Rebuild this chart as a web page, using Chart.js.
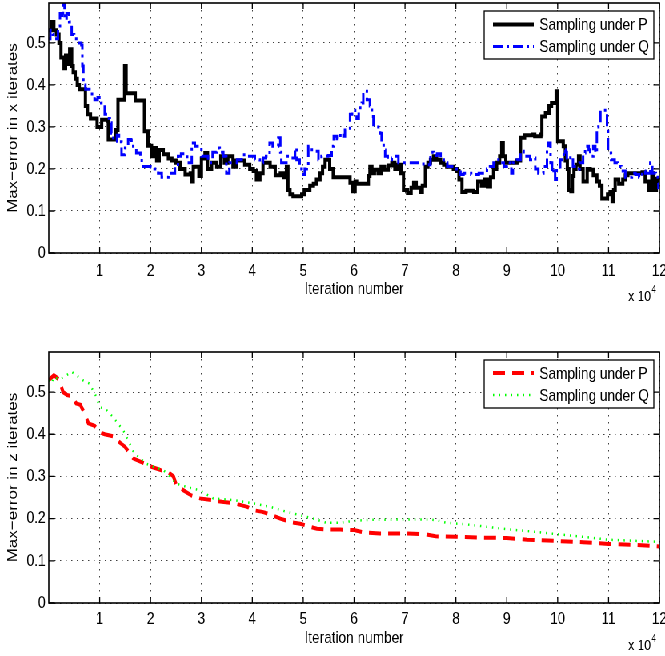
<!DOCTYPE html>
<html><head><meta charset="utf-8">
<script src="https://cdn.jsdelivr.net/npm/chart.js@4"></script>
<style>
html,body{margin:0;padding:0;background:#fff;overflow:hidden;width:665px;height:656px;}
#wrap{position:absolute;left:0;top:0;width:831px;height:656px;transform:scaleX(0.80024);transform-origin:0 0;}
canvas{position:absolute;left:0;}
</style></head><body>
<div id="wrap">
<canvas id="c1" width="831" height="328" style="top:0;width:831px;height:328px"></canvas>
<canvas id="c2" width="831" height="328" style="top:328px;width:831px;height:328px"></canvas>
</div>
<script>
// ---- data (iteration number in units of 10^4) ----
const xTicks = [1,2,3,4,5,6,7,8,9,10,11,12];
const yTicks = [0,0.1,0.2,0.3,0.4,0.5];
const xTitle = 'Iteration number';
const yTitleTop = 'Max\u2212error in x iterates';
const yTitleBottom = 'Max\u2212error in z iterates';
const labelP = 'Sampling under P';
const labelQ = 'Sampling under Q';

// top plot: x iterates, sampling under P
const iterPx = [0,0.05,0.1,0.15,0.2,0.24,0.3,0.33,0.37,0.41,
 0.45,0.48,0.52,0.56,0.6,0.72,0.76,0.82,0.95,1.04,
 1.15,1.17,1.32,1.36,1.49,1.52,1.7,1.88,1.95,2.02,
 2.08,2.12,2.17,2.25,2.35,2.42,2.5,2.58,2.68,2.78,
 2.81,2.84,2.95,3.0,3.07,3.12,3.2,3.3,3.38,3.45,
 3.52,3.62,3.68,3.85,3.95,4.02,4.08,4.15,4.21,4.35,
 4.45,4.55,4.62,4.67,4.70,4.74,4.8,4.97,5.02,5.13,
 5.2,5.26,5.33,5.38,5.43,5.52,5.59,5.92,5.97,6.02,
 6.05,6.28,6.31,6.35,6.4,6.47,6.53,6.6,6.67,6.74,
 6.8,6.86,6.92,6.97,7.05,7.12,7.17,7.22,7.3,7.34,
 7.4,7.45,7.5,7.56,7.62,7.7,7.76,7.82,7.95,8.02,
 8.06,8.12,8.2,8.35,8.43,8.5,8.56,8.62,8.68,8.74,
 8.8,8.86,8.9,8.93,8.98,9.2,9.27,9.35,9.5,9.55,
 9.67,9.69,9.76,9.83,9.88,9.97,10.0,10.11,10.15,10.19,
 10.22,10.26,10.29,10.32,10.36,10.41,10.44,10.5,10.58,10.64,
 10.7,10.77,10.82,10.87,10.98,11.03,11.07,11.1,11.13,11.2,
 11.28,11.33,11.38,11.66,11.72,11.79,11.82,11.85,11.88,11.94,
 12.0];
const errPx = [0.53,0.55,0.53,0.52,0.50,0.465,0.44,0.47,0.45,0.485,
 0.445,0.43,0.415,0.40,0.39,0.35,0.33,0.32,0.30,0.317,
 0.315,0.27,0.293,0.365,0.445,0.38,0.363,0.29,0.255,0.23,
 0.25,0.22,0.245,0.235,0.225,0.22,0.215,0.2,0.187,0.19,
 0.17,0.205,0.183,0.225,0.238,0.2,0.215,0.205,0.23,0.215,
 0.23,0.205,0.22,0.21,0.2,0.195,0.175,0.19,0.215,0.205,
 0.185,0.19,0.18,0.205,0.15,0.14,0.135,0.14,0.15,0.16,
 0.165,0.175,0.19,0.205,0.222,0.2,0.18,0.167,0.147,0.17,
 0.165,0.183,0.205,0.19,0.198,0.19,0.205,0.198,0.208,0.215,
 0.2,0.21,0.19,0.15,0.143,0.155,0.167,0.155,0.145,0.16,
 0.205,0.215,0.222,0.23,0.222,0.215,0.21,0.205,0.2,0.195,
 0.175,0.145,0.148,0.145,0.17,0.16,0.175,0.158,0.18,0.2,
 0.215,0.23,0.262,0.23,0.215,0.22,0.274,0.28,0.282,0.278,
 0.282,0.325,0.333,0.35,0.357,0.385,0.266,0.254,0.22,0.2,
 0.15,0.147,0.183,0.2,0.21,0.23,0.2,0.17,0.2,0.198,
 0.185,0.17,0.16,0.13,0.14,0.145,0.123,0.15,0.175,0.165,
 0.175,0.185,0.19,0.192,0.17,0.15,0.165,0.19,0.15,0.177,
 0.165];

// top plot: x iterates, sampling under Q
const iterQx = [0,0.03,0.08,0.15,0.18,0.22,0.26,0.28,0.31,0.35,
 0.4,0.45,0.5,0.54,0.64,0.66,0.68,0.72,0.8,0.85,
 0.9,0.96,1.03,1.1,1.15,1.2,1.23,1.27,1.31,1.34,
 1.38,1.43,1.5,1.56,1.62,1.66,1.72,1.8,1.86,2.0,
 2.08,2.15,2.22,2.35,2.41,2.48,2.54,2.6,2.68,2.72,
 2.81,2.87,3.0,3.07,3.13,3.22,3.30,3.36,3.43,3.49,
 3.55,3.62,3.7,3.79,3.88,3.98,4.05,4.15,4.21,4.27,
 4.34,4.4,4.51,4.55,4.57,4.67,4.72,4.84,4.87,4.93,
 4.97,5.03,5.07,5.1,5.17,5.23,5.3,5.36,5.49,5.56,
 5.6,5.66,5.73,5.79,5.82,5.9,5.92,5.96,6.02,6.05,
 6.09,6.12,6.15,6.18,6.22,6.25,6.31,6.35,6.38,6.44,
 6.51,6.54,6.58,6.61,6.66,6.74,6.82,6.87,7.0,7.2,
 7.3,7.4,7.5,7.56,7.63,7.7,7.76,7.83,7.9,7.96,
 8.09,8.15,8.3,8.45,8.55,8.61,8.67,8.74,8.8,8.87,
 8.94,9.0,9.06,9.09,9.12,9.2,9.27,9.33,9.4,9.46,
 9.52,9.56,9.62,9.72,9.79,9.82,9.86,9.89,9.92,9.95,
 9.98,10.05,10.12,10.15,10.18,10.25,10.3,10.37,10.43,10.5,
 10.54,10.61,10.64,10.7,10.74,10.77,10.8,10.84,10.97,10.99,
 11.05,11.12,11.18,11.25,11.33,11.4,11.46,11.53,11.6,11.66,
 11.72,11.79,11.82,11.86,11.93,11.98,12.0];
const errQx = [0.51,0.53,0.52,0.51,0.54,0.57,0.56,0.595,0.555,0.57,
 0.55,0.52,0.51,0.5,0.495,0.445,0.40,0.39,0.385,0.375,
 0.365,0.37,0.357,0.33,0.32,0.31,0.285,0.27,0.266,0.28,
 0.265,0.234,0.25,0.27,0.268,0.25,0.238,0.22,0.206,0.205,
 0.2,0.19,0.18,0.185,0.19,0.205,0.23,0.236,0.236,0.215,
 0.262,0.254,0.23,0.23,0.215,0.24,0.25,0.24,0.23,0.19,
 0.215,0.215,0.222,0.234,0.23,0.23,0.222,0.215,0.226,0.23,
 0.262,0.254,0.274,0.24,0.215,0.23,0.226,0.25,0.222,0.2,
 0.187,0.2,0.205,0.254,0.242,0.242,0.222,0.23,0.232,0.254,
 0.278,0.272,0.285,0.278,0.293,0.293,0.33,0.34,0.33,0.32,
 0.335,0.353,0.357,0.377,0.385,0.365,0.35,0.325,0.305,0.3,
 0.285,0.262,0.245,0.23,0.222,0.226,0.23,0.215,0.215,0.215,
 0.212,0.21,0.24,0.232,0.236,0.222,0.215,0.206,0.206,0.2,
 0.187,0.19,0.187,0.19,0.19,0.2,0.206,0.215,0.222,0.215,
 0.206,0.215,0.206,0.19,0.215,0.222,0.242,0.23,0.23,0.222,
 0.226,0.2,0.19,0.206,0.246,0.262,0.215,0.19,0.2,0.175,
 0.2,0.222,0.246,0.24,0.222,0.23,0.206,0.2,0.215,0.238,
 0.254,0.246,0.23,0.254,0.238,0.3,0.315,0.34,0.29,0.238,
 0.222,0.215,0.206,0.195,0.18,0.18,0.19,0.187,0.18,0.195,
 0.19,0.19,0.215,0.19,0.18,0.155,0.17];

// bottom plot: z iterates
const iterPz = [0,0.1,0.2,0.28,0.36,0.46,0.54,0.62,0.7,0.78,
 0.9,1.0,1.1,1.27,1.4,1.5,1.66,1.8,2.02,2.2,
 2.35,2.45,2.51,2.65,2.8,2.97,3.2,3.4,3.63,3.9,
 4.02,4.2,4.4,4.55,4.75,4.94,5.1,5.27,5.5,5.73,
 6.0,6.2,6.5,7.0,7.4,7.6,8.0,8.5,9.0,9.4,
 10.0,10.5,11.0,11.5,12.0];
const errPz = [0.528,0.54,0.53,0.50,0.493,0.49,0.473,0.47,0.45,0.426,
 0.42,0.405,0.4,0.395,0.38,0.37,0.343,0.335,0.323,0.315,
 0.31,0.30,0.278,0.267,0.255,0.248,0.244,0.24,0.237,0.228,
 0.22,0.216,0.208,0.2,0.192,0.188,0.182,0.176,0.174,0.174,
 0.173,0.167,0.165,0.165,0.163,0.158,0.157,0.155,0.154,0.15,
 0.147,0.144,0.14,0.138,0.134];
const iterQz = [0,0.05,0.1,0.2,0.3,0.45,0.54,0.67,0.8,0.93,
 1.0,1.14,1.27,1.33,1.46,1.59,1.66,1.79,1.92,2.06,
 2.25,2.38,2.51,2.71,2.97,3.23,3.63,4.02,4.35,4.68,
 4.94,5.2,5.46,5.73,6.0,6.3,7.0,7.5,7.62,7.82,
 8.15,8.45,9.0,9.45,10.0,10.5,11.0,11.4,12.0];
const errQz = [0.528,0.52,0.536,0.53,0.536,0.548,0.54,0.528,0.52,0.49,
 0.465,0.457,0.44,0.43,0.41,0.378,0.36,0.343,0.33,0.323,
 0.315,0.3,0.283,0.275,0.267,0.248,0.244,0.236,0.228,0.216,
 0.208,0.2,0.19,0.19,0.195,0.197,0.198,0.198,0.196,0.19,
 0.187,0.183,0.175,0.17,0.163,0.157,0.15,0.148,0.145];

// ---- helpers ----
const FONT = '"Liberation Sans", Arial, Helvetica, sans-serif';
Chart.defaults.font.family = FONT;
Chart.defaults.color = '#000';

function pts(xs, ys) {
  const n = Math.min(xs.length, ys.length);
  const out = [];
  for (let i = 0; i < n; i++) out.push({x: xs[i], y: ys[i]});
  return out;
}

const framePlugin = {
  id: 'frame',
  afterDatasetsDraw(chart, args, opts) {
    const {ctx, chartArea: a} = chart;
    const xs = chart.scales.x, ys = chart.scales.y;
    ctx.save();
    ctx.setLineDash([]);
    ctx.strokeStyle = '#000';
    ctx.lineWidth = 1.6;
    ctx.strokeRect(a.left, a.top, a.right - a.left, a.bottom - a.top);
    ctx.lineWidth = 1.3;
    ctx.beginPath();
    xs.ticks.forEach(t => {
      const px = xs.getPixelForValue(t.value);
      ctx.moveTo(px, a.bottom); ctx.lineTo(px, a.bottom - 6);
      ctx.moveTo(px, a.top); ctx.lineTo(px, a.top + 6);
    });
    ys.ticks.forEach(t => {
      const py = ys.getPixelForValue(t.value);
      ctx.moveTo(a.left, py); ctx.lineTo(a.left + 7.5, py);
      ctx.moveTo(a.right, py); ctx.lineTo(a.right - 7.5, py);
    });
    ctx.stroke();

    // legend box
    const lg = opts.legend;
    ctx.fillStyle = '#fff';
    ctx.fillRect(lg.x0, lg.y0, lg.x1 - lg.x0, lg.y1 - lg.y0);
    ctx.lineWidth = 1.3;
    ctx.strokeStyle = '#000';
    ctx.strokeRect(lg.x0, lg.y0, lg.x1 - lg.x0, lg.y1 - lg.y0);
    chart.data.datasets.forEach((ds, i) => {
      const yy = lg.rows[i];
      ctx.save();
      ctx.strokeStyle = ds.borderColor;
      ctx.lineWidth = ds.borderWidth;
      ctx.setLineDash(ds.borderDash || []);
      ctx.beginPath();
      ctx.moveTo(lg.lx0, yy); ctx.lineTo(lg.lx1, yy);
      ctx.stroke();
      ctx.restore();
      ctx.fillStyle = '#000';
      ctx.font = '17px ' + FONT;
      ctx.textBaseline = 'middle';
      ctx.textAlign = 'left';
      ctx.fillText(ds.label, lg.tx, yy + 1);
    });

    // exponent label
    ctx.fillStyle = '#000';
    ctx.textBaseline = 'middle';
    ctx.textAlign = 'left';
    ctx.font = '15px ' + FONT;
    ctx.fillText('x 10', opts.expX, opts.expY);
    const w = ctx.measureText('x 10').width;
    ctx.font = '10px ' + FONT;
    ctx.fillText('4', opts.expX + w + 1, opts.expY - 7);
    ctx.restore();
  }
};

function buildChart(id, datasets, o) {
  return new Chart(document.getElementById(id), {
    type: 'line',
    data: { datasets },
    options: {
      responsive: false,
      animation: false,
      events: [],
      layout: { padding: { left: 0, right: 7, top: o.padTop, bottom: 0 } },
      elements: { point: { radius: 0 } },
      plugins: {
        legend: { display: false },
        tooltip: { enabled: false },
        frame: o.frame
      },
      scales: {
        x: {
          type: 'linear', min: 0, max: 12,
          afterBuildTicks: s => { s.ticks = xTicks.map(v => ({ value: v })); },
          afterFit: s => { s.height = o.xAxisH; s.paddingLeft = 0; s.paddingRight = 0; s.paddingTop = 0; s.paddingBottom = 0; },
          ticks: { autoSkip: false, maxRotation: 0, minRotation: 0, padding: o.xTickPad, font: { size: 17 }, color: '#000',
                   callback: v => String(v) },
          grid: { color: 'rgba(0,0,0,0.75)', lineWidth: 1, drawTicks: false, borderDash: [1.5, 5.5] },
          border: { display: false, dash: [1.5, 5.5] },
          title: { display: true, text: xTitle, font: { size: 17 }, color: '#000', padding: { top: 0, bottom: o.xTitlePad } }
        },
        y: {
          type: 'linear', min: 0, max: 0.595,
          afterBuildTicks: s => { s.ticks = yTicks.map(v => ({ value: v })); },
          afterFit: s => { s.width = 61; s.paddingLeft = 0; s.paddingRight = 0; s.paddingTop = 0; s.paddingBottom = 0; },
          ticks: { padding: 4, font: { size: 17 }, color: '#000',
                   callback: v => (v === 0 ? '0' : Number(v).toFixed(1)) },
          grid: { color: 'rgba(0,0,0,0.75)', lineWidth: 1, drawTicks: false, borderDash: [1.5, 5.5] },
          border: { display: false, dash: [1.5, 5.5] },
          title: { display: true, text: o.yTitle, font: { size: 17 }, color: '#000', padding: { top: 6, bottom: 0 } }
        }
      }
    },
    plugins: [framePlugin]
  });
}

buildChart('c1', [
  { label: labelP, data: pts(iterPx, errPx), borderColor: '#000000', borderWidth: 4, stepped: true, order: 1, fill: false },
  { label: labelQ, data: pts(iterQx, errQx), borderColor: '#0000ff', borderWidth: 3, borderDash: [12, 5, 3, 5], stepped: true, order: 0, fill: false }
], {
  padTop: 3, xAxisH: 75, xTickPad: 8.5, xTitlePad: 28.5, yTitle: yTitleTop,
  frame: { legend: { x0: 605, y0: 11, x1: 817, y1: 59, rows: [24.5, 46.5], lx0: 616, lx1: 667, tx: 674 }, expX: 785, expY: 297 }
});

buildChart('c2', [
  { label: labelP, data: pts(iterPz, errPz), borderColor: '#ff0000', borderWidth: 4, borderDash: [15, 9], tension: 0, order: 1, fill: false },
  { label: labelQ, data: pts(iterQz, errQz), borderColor: '#00ff00', borderWidth: 2.5, borderDash: [1.5, 6], tension: 0, order: 0, fill: false }
], {
  padTop: 24, xAxisH: 53, xTickPad: 6, xTitlePad: 7.5, yTitle: yTitleBottom,
  frame: { legend: { x0: 605, y0: 32, x1: 817, y1: 80, rows: [45, 67], lx0: 616, lx1: 667, tx: 674 }, expX: 785, expY: 318 }
});
</script>
</body></html>
